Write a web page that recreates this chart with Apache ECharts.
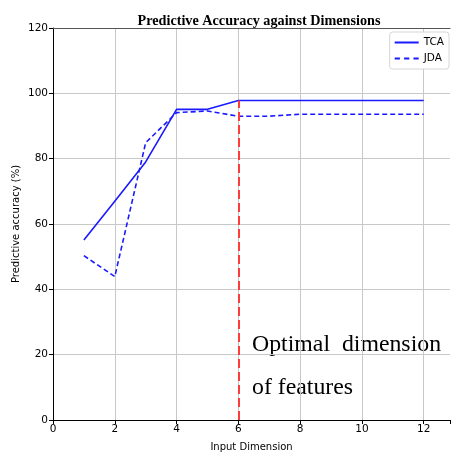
<!DOCTYPE html>
<html>
<head>
<meta charset="utf-8">
<script src="https://cdn.jsdelivr.net/npm/echarts@6/dist/echarts.min.js"></script>
<style>
  html, body { margin: 0; padding: 0; background: #fff; }
  #chart { width: 452px; height: 452px; }
</style>
</head>
<body>
<div id="chart"></div>
<script>
// Accuracy (%) per number of retained dimensions
const dims = [1, 2, 3, 4, 5, 6, 7, 8, 10, 12];
const tcaValues = [55.1, 67.0, 79.0, 95.1, 95.1, 97.8, 97.8, 97.8, 97.8, 97.8];
const jdaValues = [50.3, 43.9, 84.9, 94.1, 94.6, 93.0, 93.0, 93.6, 93.6, 93.6];
const optimalDim = 6;
const optimalTop = 97.8;
const xTicks = [0, 2, 4, 6, 8, 10, 12];
const yTicks = [0, 20, 40, 60, 80, 100, 120];

const pair = (xs, ys) => xs.map((x, i) => [x, ys[i]]);

const chart = echarts.init(document.getElementById('chart'));
const gridColor = '#c8c8c8';
const sans = 'DejaVu Sans';

chart.setOption({
  animation: false,
  title: {
    text: 'Predictive Accuracy against Dimensions',
    left: 254, top: 9, textAlign: 'center',
    textStyle: { fontFamily: 'Liberation Serif', fontWeight: 'bold', fontSize: 14.2, color: '#000' }
  },
  legend: {
    right: 3, top: 32, orient: 'vertical', itemGap: 5,
    itemWidth: 24, itemHeight: 10,
    backgroundColor: '#fff', borderColor: '#d6d6d6', borderWidth: 1, borderRadius: 3,
    padding: [5, 5, 5, 5],
    textStyle: { fontFamily: sans, fontSize: 10.5, color: '#000' },
    data: [
      { name: 'TCA', icon: 'path://M0,4 L24,4 L24,6 L0,6 Z' },
      { name: 'JDA', icon: 'path://M0,4 L5,4 L5,6 L0,6 Z M9,4 L14,4 L14,6 L9,6 Z M18,4 L23,4 L23,6 L18,6 Z' }
    ],
    itemStyle: { color: '#1a1aff' }
  },
  grid: { left: 53, right: 2, top: 28, bottom: 32, outerBoundsMode: 'none', containLabel: false },
  xAxis: [{
    type: 'value', min: 0, max: 12.85, interval: 2,
    name: 'Input Dimension', nameLocation: 'middle', nameGap: 22,
    nameTextStyle: { fontFamily: sans, fontSize: 10, color: '#000' },
    axisLine: { lineStyle: { color: '#000', width: 1 } },
    axisTick: { length: 4, lineStyle: { color: '#000' } },
    axisLabel: {
      fontFamily: sans, fontSize: 10.5, color: '#000', margin: 4,
      formatter: v => (xTicks.indexOf(v) >= 0 ? String(v) : '')
    },
    splitLine: { show: true, showMaxLine: false, lineStyle: { color: gridColor, width: 1 } }
  }, {
    type: 'value', min: 0, max: 12.85, position: 'top',
    axisLine: { show: true, lineStyle: { color: '#555', width: 1 } },
    axisTick: { show: false }, axisLabel: { show: false }, splitLine: { show: false }
  }],
  yAxis: {
    type: 'value', min: 0, max: 120, interval: 20,
    name: 'Predictive accuracy (%)', nameLocation: 'middle', nameGap: 32,
    nameMoveOverlap: false,
    nameTextStyle: { fontFamily: sans, fontSize: 10, color: '#000' },
    axisLine: { show: true, lineStyle: { color: '#000', width: 1 } },
    axisTick: { show: true, length: 4, lineStyle: { color: '#000' } },
    axisLabel: {
      fontFamily: sans, fontSize: 10.5, color: '#000', margin: 5,
      formatter: v => (yTicks.indexOf(v) >= 0 ? String(v) : '')
    },
    splitLine: { show: true, lineStyle: { color: gridColor, width: 1 } }
  },
  series: [{
    name: 'TCA', type: 'line', data: pair(dims, tcaValues),
    showSymbol: false, symbol: 'none',
    lineStyle: { color: '#1a1aff', width: 1.6, type: 'solid' },
    itemStyle: { color: '#1a1aff' },
    markLine: {
      silent: true, symbol: 'none', label: { show: false },
      lineStyle: { color: '#ff3b3b', width: 2, type: [9, 4] },
      data: [[{ coord: [optimalDim, 0] }, { coord: [optimalDim, optimalTop] }]]
    }
  }, {
    name: 'JDA', type: 'line', data: pair(dims, jdaValues),
    showSymbol: false, symbol: 'none',
    lineStyle: { color: '#1a1aff', width: 1.6, type: [5, 3] },
    itemStyle: { color: '#1a1aff' }
  }],
  graphic: [{
    type: 'text', left: 252, top: 333,
    style: { text: 'Optimal  dimension', font: '23.8px "Liberation Serif"', fill: '#000' }
  }, {
    type: 'text', left: 252, top: 376,
    style: { text: 'of features', font: '23.8px "Liberation Serif"', fill: '#000' }
  }]
});
</script>
</body>
</html>
